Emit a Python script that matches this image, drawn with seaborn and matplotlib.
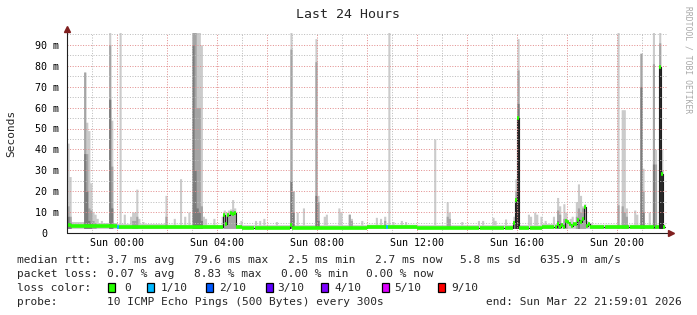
import numpy as np
import pandas as pd
import matplotlib
matplotlib.use("Agg")
import matplotlib.pyplot as plt
import matplotlib.transforms as mtransforms
from matplotlib.patches import Rectangle
import seaborn as sns

# ---------------- data ----------------
# hourly baseline (22:00 Sat .. 21:00 Sun)
base_hours = ["22", "23", "00", "01", "02", "03", "04", "05", "06", "07", "08", "09",
              "10", "11", "12", "13", "14", "15", "16", "17", "18", "19", "20", "21"]
base_median = [3.4, 3.2, 3.0, 3.0, 2.9, 2.8, 2.7, 2.6, 2.6, 2.6, 2.6, 2.6,
               2.7, 2.7, 2.6, 2.6, 2.6, 2.6, 2.6, 2.8, 3.0, 2.8, 2.8, 2.8]
base_smoke = [5.5, 5.0, 4.5, 4.5, 4.2, 4.2, 4.0, 4.0, 4.0, 4.0, 4.0, 4.0,
              4.2, 4.2, 4.0, 4.0, 4.0, 4.0, 4.0, 4.5, 4.8, 4.2, 4.2, 4.2]
smoke_floor = 2.2

smoke_times = ["22:00", "22:05", "22:40", "22:45", "22:50", "22:55", "23:00", "23:05", "23:10", "23:20",
               "23:40", "23:45", "00:05", "00:15", "00:30", "00:35", "00:40", "00:45", "00:50", "01:00",
               "01:55", "02:15", "02:30", "02:40", "02:50", "03:00", "03:05", "03:10", "03:15", "03:20",
               "03:25", "03:30", "03:50", "04:10", "04:15", "04:20", "04:25", "04:30", "04:35", "04:40",
               "04:55", "05:30", "05:40", "05:50", "06:20", "06:55", "07:00", "07:10", "07:25", "07:55",
               "08:00", "08:15", "08:20", "08:50", "08:55", "09:15", "09:20", "09:45", "10:20", "10:30",
               "10:40", "10:50", "11:00", "11:20", "11:30", "12:40", "13:10", "13:15", "13:45", "14:25",
               "14:35", "15:00", "15:05", "15:30", "15:50", "15:55", "16:00", "16:25", "16:30", "16:40",
               "16:45", "16:55", "17:05", "17:25", "17:35", "17:40", "17:50", "17:55", "18:05", "18:10",
               "18:20", "18:25", "18:30", "18:35", "18:40", "18:45", "18:55", "20:00", "20:10", "20:15",
               "20:20", "20:40", "20:45", "20:55", "21:00", "21:15", "21:25", "21:30", "21:40", "21:45"]
smoke_l1 = [43, 27, 77, 53, 49, 24, 10, 9, 7, 6,
            96, 54, 96, 9, 8, 10, 10, 21, 7, 5.5,
            18, 7, 26, 8, 10, 96, 96, 96, 96, 90,
            8, 7, 7, 8, 11, 10, 11, 11.5, 16, 12,
            6, 6, 6, 7, 5.5, 96, 20, 10, 12, 93,
            18, 8, 9, 12, 10, 9, 7, 6, 7.5, 7,
            8, 96, 5.5, 6, 5.5, 45, 15, 10, 5.5, 6,
            6, 7.5, 6, 6.7, 8, 26, 93, 9, 8, 10,
            9, 8, 6, 8, 17, 13, 14, 10, 7, 8,
            15, 23.5, 18, 13, 14, 6, 5, 96, 59, 59,
            12, 11, 9, 86, 31, 10, 96, 40, 96, 40]
smoke_l2 = [13, 8, 77, 38, 12, 11, 6, 5, 0, 0,
            90, 32, 0, 0, 0, 6, 6, 8, 0, 0,
            8, 0, 0, 0, 0, 96, 96, 60, 60, 13,
            0, 0, 0, 0, 9, 8, 9, 10, 11, 10,
            0, 0, 0, 0, 0, 88, 20, 0, 0, 82,
            15, 0, 0, 0, 0, 9, 6, 0, 0, 0,
            6, 0, 0, 0, 0, 0, 8, 7, 0, 0,
            0, 0, 0, 0, 6, 20, 78, 0, 0, 0,
            0, 0, 0, 0, 11, 9, 7, 7, 0, 0,
            8, 12, 10, 12, 12.6, 0, 0, 13.5, 13, 10,
            8, 0, 0, 86, 20, 0, 81, 33, 91, 30]
smoke_l3 = [8, 5, 38, 20, 6, 5, 0, 0, 0, 0,
            64, 12, 0, 0, 0, 0, 0, 0, 0, 0,
            0, 0, 0, 0, 0, 90, 30, 12, 10, 6,
            0, 0, 0, 0, 0, 0, 0, 0, 0, 0,
            0, 0, 0, 0, 0, 25, 10, 0, 0, 18,
            6, 0, 0, 0, 0, 0, 0, 0, 0, 0,
            0, 0, 0, 0, 0, 0, 0, 0, 0, 0,
            0, 0, 0, 0, 5, 17, 62, 0, 0, 0,
            0, 0, 0, 0, 6, 5, 0, 0, 0, 0,
            0, 7, 0, 0, 0, 0, 0, 0, 0, 0,
            0, 0, 0, 70, 10, 0, 33, 0, 79.6, 28]
smoke_l4 = [0, 0, 0, 0, 0, 0, 0, 0, 0, 0,
            0, 0, 0, 0, 0, 0, 0, 0, 0, 0,
            0, 0, 0, 0, 0, 0, 0, 0, 0, 0,
            0, 0, 0, 0, 0, 0, 0, 0, 0, 0,
            0, 0, 0, 0, 0, 0, 0, 0, 0, 0,
            0, 0, 0, 0, 0, 0, 0, 0, 0, 0,
            0, 0, 0, 0, 0, 0, 0, 0, 0, 0,
            0, 0, 0, 0, 0, 15.8, 55, 0, 0, 0,
            0, 0, 0, 0, 0, 0, 0, 0, 0, 0,
            0, 0, 0, 0, 0, 0, 0, 0, 0, 0,
            0, 0, 0, 0, 0, 0, 0, 0, 79.6, 28]

median_times = ["22:00", "22:05", "22:10", "00:00", "04:15", "04:20", "04:25", "04:30", "04:35", "04:40",
                "06:55", "10:45", "15:50", "15:55", "16:00", "17:35", "17:45", "17:55", "18:00", "18:05",
                "18:10", "18:15", "18:20", "18:25", "18:30", "18:35", "18:40", "18:45", "18:50", "21:40",
                "21:45", "21:50"]
median_values = [4.0, 3.8, 3.5, 2.9, 8.5, 4.3, 8.7, 9.8, 9.0, 9.5,
                 3.6, 3.0, 5.0, 15.8, 55.0, 4.5, 4.0, 5.7, 5.2, 4.5,
                 3.3, 4.1, 4.5, 6.0, 5.5, 6.5, 12.6, 3.3, 4.1, 79.6,
                 28.0, 2.7]
no_data_times = ["21:55"]

loss_times = ["00:00", "10:45"]
loss_levels = ["1/10", "1/10"]

loss_names = ["0", "1/10", "2/10", "3/10", "4/10", "5/10", "9/10"]
loss_colors = ["#26ff00", "#00b8ff", "#0059ff", "#5e00ff", "#7e00ff", "#dd00ff", "#ff0000"]

ytick_values = [0, 10, 20, 30, 40, 50, 60, 70, 80, 90]
ytick_labels = ["0", "10 m", "20 m", "30 m", "40 m", "50 m", "60 m", "70 m", "80 m", "90 m"]
xlabel_hours = [0, 4, 8, 12, 16, 20]
xlabel_texts = ["Sun 00:00", "Sun 04:00", "Sun 08:00", "Sun 12:00", "Sun 16:00", "Sun 20:00"]

stats_rows = [
    ("median rtt:", ["3.7 ms avg", "79.6 ms max", "2.5 ms min", "2.7 ms now", "5.8 ms sd", "635.9 m am/s"]),
    ("packet loss:", ["0.07 % avg", "8.83 % max", "0.00 % min", "0.00 % now"]),
]
probe_text = "10 ICMP Echo Pings (500 Bytes) every 300s"
end_text = "end: Sun Mar 22 21:59:01 2026"
title_text = "Last 24 Hours"

# ---------------- build step series ----------------
START = -2.0
STEP = 5 / 60
N = 288


def to_hours(s):
    hh, mm = map(int, s.split(":"))
    h = hh + mm / 60
    return h - 24 if hh >= 22 else h


def idx(s):
    return int(round((to_hours(s) - START) / STEP))


t = START + np.arange(N) * STEP
hour_idx = np.floor((t - START)).astype(int)
med = np.array(base_median)[hour_idx].astype(float)
l1 = np.array(base_smoke)[hour_idx].astype(float)
l2 = np.full(N, smoke_floor)
l3 = np.full(N, smoke_floor)
l4 = np.full(N, smoke_floor)
for s, a, b, c, d in zip(smoke_times, smoke_l1, smoke_l2, smoke_l3, smoke_l4):
    i = idx(s)
    l1[i] = max(l1[i], a)
    l2[i] = max(l2[i], b)
    l3[i] = max(l3[i], c)
    l4[i] = max(l4[i], d)
for s, v in zip(median_times, median_values):
    med[idx(s)] = v
colmap = dict(zip(loss_names, loss_colors))
cols = [colmap["0"]] * N
for s, lv in zip(loss_times, loss_levels):
    cols[idx(s)] = colmap[lv]
valid = np.ones(N, bool)
for s in no_data_times:
    valid[idx(s)] = False
for arr in (l1, l2, l3, l4):
    arr[~valid] = smoke_floor

# ---------------- figure ----------------
sns.set_style("white")
plt.rcParams["font.family"] = ["DejaVu Sans Mono"]

W, H = 697, 315
fig = plt.figure(figsize=(W / 100, H / 100), dpi=100)
fig.patch.set_facecolor("white")
L, R, T, B = 67, 667, 33, 233
ax = fig.add_axes([L / W, 1 - B / H, (R - L) / W, (B - T) / H])
ymax = (B - T) / 2.09
ax.set_xlim(-2, 22)
ax.set_ylim(0, ymax)

edges = np.append(t, t[-1] + STEP)
layer_cols = ["#cbcbcb", "#a4a4a4", "#7c7c7c", "#2a2a2a"]
for arr, c in zip((l1, l2, l3, l4), layer_cols):
    ax.fill_between(edges, smoke_floor, np.append(arr, arr[-1]), step="post",
                    color=c, lw=0, zorder=1)

# thin dark median line (shows vertical jumps)
df = pd.DataFrame({"t": np.append(t[valid], t[valid][-1] + STEP),
                   "median": np.append(med[valid], med[valid][-1])})
sns.lineplot(data=df, x="t", y="median", ax=ax, drawstyle="steps-post",
             color="#202020", lw=0.8, zorder=2, legend=False)
# thick loss-coloured median segments
vi = np.where(valid)[0]
ax.hlines(med[vi], t[vi], t[vi] + STEP, colors=[cols[i] for i in vi],
          lw=2.6, zorder=3, capstyle="butt")
ax.set_xlabel("")
ax.set_ylabel("")

# grid
ax.set_yticks(ytick_values)
ax.set_yticks(np.arange(5, 96, 10), minor=True)
ax.set_xticks(np.arange(-2, 23, 2))
ax.set_xticks(np.arange(-2, 23, 1), minor=True)
ax.set_axisbelow(False)
ax.grid(which="major", color="#e39090", ls=(0, (1, 1.6)), lw=0.72)
ax.grid(which="minor", color="#bdbdbd", ls=(0, (1, 1.6)), lw=0.72)
for tk in (ax.xaxis.get_major_ticks() + ax.xaxis.get_minor_ticks() +
           ax.yaxis.get_major_ticks() + ax.yaxis.get_minor_ticks()):
    tk.gridline.set_zorder(2.5)
    tk.gridline.set_snap(True)

ax.set_yticklabels(ytick_labels)
xl = ["" for _ in np.arange(-2, 23, 2)]
for h, txt in zip(xlabel_hours, xlabel_texts):
    xl[int((h + 2) / 2)] = txt
ax.set_xticklabels(xl)
ax.tick_params(which="both", length=2, width=0.75, direction="out")
ax.tick_params(axis="x", which="major", colors="#e59a9a", labelcolor="black",
               labelsize=7.2, pad=1.5)
ax.tick_params(axis="y", which="major", colors="#e59a9a", labelcolor="black",
               labelsize=7.2, pad=3.5)
ax.tick_params(which="minor", colors="#c2c2c2")
# shift the lone "0" label like rrdtool does
zero_lbl = ax.get_yticklabels()[0]
zero_lbl.set_transform(zero_lbl.get_transform() +
                       mtransforms.ScaledTranslation(-12 / 100, 0, fig.dpi_scale_trans))
for sp in ax.spines.values():
    sp.set_visible(False)

# axes lines + arrows
ax.plot([-2, 22.15], [0, 0], color="#1f1f1f", lw=0.8, clip_on=False, zorder=5)
ax.plot([-2, -2], [0, 97.3], color="#1f1f1f", lw=0.8, clip_on=False, zorder=5)
ax.plot([22.16], [0], marker=">", ms=4.5, color="#801f1f", mec="#801f1f",
        clip_on=False, zorder=6)
ax.plot([-2], [97.6], marker="^", ms=4.5, color="#801f1f", mec="#801f1f",
        clip_on=False, zorder=6)


def fx(x):
    return x / W


def fy(y):
    return 1 - y / H


fig.text(fx(348), fy(14), title_text, ha="center", va="center", fontsize=9.5)
fig.text(fx(11), fy(133), "Seconds", rotation=90, ha="center", va="center", fontsize=8)
fig.text(fx(688), fy(6), "RRDTOOL / TOBI OETIKER", rotation=270, ha="center", va="top",
         fontsize=5.8, color="#a8a8a8")

row_y = [259.3, 272.7, 287.3, 301]
col_x = [[107.3, 194, 288, 375, 460, 540], [107.3, 194, 281, 366]]
for (lab, vals), y, xs in zip(stats_rows, row_y, col_x):
    fig.text(fx(16.7), fy(y), lab, ha="left", va="center_baseline", fontsize=8)
    for v, x in zip(vals, xs):
        fig.text(fx(x), fy(y), v, ha="left", va="center_baseline", fontsize=8)

fig.text(fx(16.7), fy(row_y[2]), "loss color:", ha="left", va="center_baseline", fontsize=8)
box_x = [108.3, 147, 206, 265.6, 321, 381.7, 437.5]
txt_x = [124, 160.7, 219, 277.7, 334, 394, 451]
for name, c, bx, tx in zip(loss_names, loss_colors, box_x, txt_x):
    fig.add_artist(Rectangle((fx(bx), fy(291.7)), 7 / W, 8.4 / H, transform=fig.transFigure,
                             facecolor=c, edgecolor="black", lw=0.9))
    fig.text(fx(tx), fy(row_y[2]), name, ha="left", va="center_baseline", fontsize=8)

fig.text(fx(16.7), fy(row_y[3]), "probe:", ha="left", va="center_baseline", fontsize=8)
fig.text(fx(107.3), fy(row_y[3]), probe_text, ha="left", va="center_baseline", fontsize=8)
fig.text(fx(682), fy(row_y[3]), end_text, ha="right", va="center_baseline", fontsize=8)

fig.savefig("out.png", dpi=100, facecolor="white")
